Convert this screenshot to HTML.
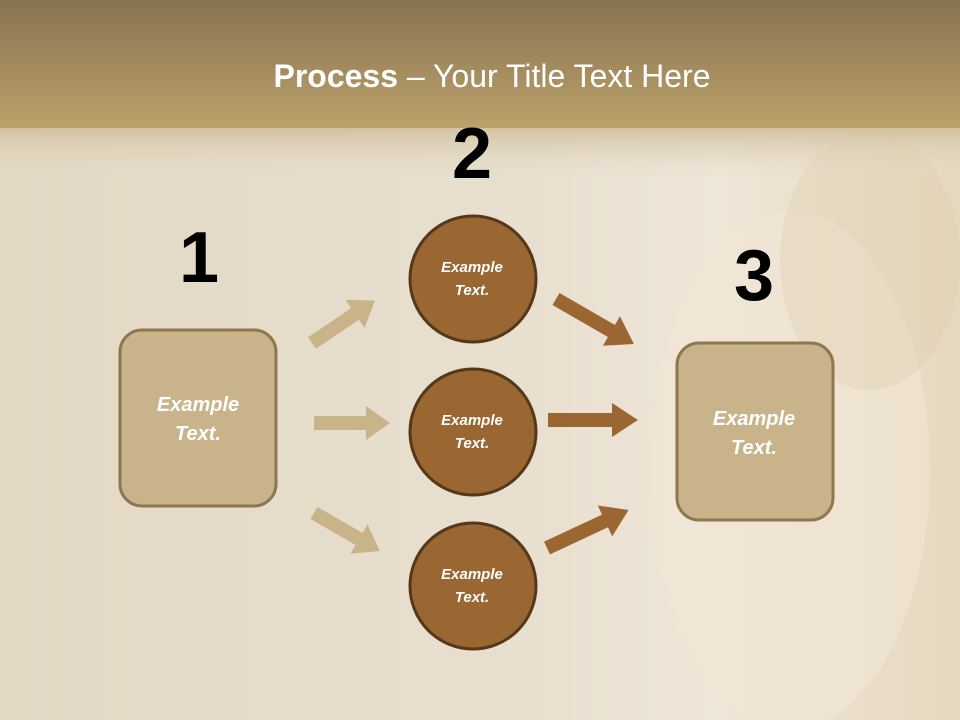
<!DOCTYPE html>
<html><head><meta charset="utf-8"><style>
html,body{margin:0;padding:0;width:960px;height:720px;overflow:hidden}
svg{display:block}
text{font-family:"Liberation Sans",sans-serif}
</style></head><body>
<svg width="960" height="720" viewBox="0 0 960 720" xmlns="http://www.w3.org/2000/svg">
<defs>
<linearGradient id="band" x1="0" y1="0" x2="0" y2="1">
<stop offset="0" stop-color="#877350"/><stop offset="1" stop-color="#bca16c"/>
</linearGradient>
<linearGradient id="fade" x1="0" y1="0" x2="0" y2="1">
<stop offset="0" stop-color="#d2c29f"/><stop offset="1" stop-color="#e6dccb" stop-opacity="0"/>
</linearGradient>
<linearGradient id="bg" x1="0" y1="0" x2="1" y2="0">
<stop offset="0" stop-color="#e3d8c4"/><stop offset="0.55" stop-color="#e8dfcf"/><stop offset="0.75" stop-color="#efe6d8"/><stop offset="1" stop-color="#e6d8bf"/>
</linearGradient>
<g id="arr"><polygon points="0,-7 64,-7 64,-17 90,0 64,17 64,7 0,7"/></g>
<g id="arrs"><polygon points="0,-7 52,-7 52,-17 76,0 52,17 52,7 0,7"/></g>
</defs>
<rect width="960" height="720" fill="url(#bg)"/>
<ellipse cx="790" cy="470" rx="140" ry="260" fill="#f1e6d6" opacity="0.6"/>
<ellipse cx="870" cy="260" rx="90" ry="130" fill="#dccaa8" opacity="0.3"/>
<rect x="0" y="128" width="960" height="50" fill="url(#fade)"/>
<rect x="0" y="0" width="960" height="128" fill="url(#band)"/>
<text x="492" y="87" font-size="32" fill="#fff" text-anchor="middle"><tspan font-weight="bold">Process</tspan> – Your Title Text Here</text>
<g font-weight="bold" font-size="72" text-anchor="middle" fill="#000">
<text x="199" y="282">1</text><text x="472" y="178">2</text><text x="754" y="300">3</text>
</g>
<g fill="#c9b48a">
<use href="#arrs" transform="translate(312,343) rotate(-34)"/>
<use href="#arrs" transform="translate(314,423)"/>
<use href="#arrs" transform="translate(314,513) rotate(30)"/>
</g>
<g fill="#9a6632">
<use href="#arr" transform="translate(556,299) rotate(30)"/>
<use href="#arr" transform="translate(548,420)"/>
<use href="#arr" transform="translate(547,548) rotate(-25)"/>
</g>
<rect x="120" y="330" width="156" height="176" rx="22" fill="#c9b38a" stroke="#8f7650" stroke-width="3"/>
<rect x="677" y="343" width="156" height="177" rx="22" fill="#c9b38a" stroke="#8f7650" stroke-width="3"/>
<g fill="#9a6632" stroke="#55381a" stroke-width="3">
<circle cx="473" cy="279" r="63"/><circle cx="473" cy="432" r="63"/><circle cx="473" cy="586" r="63"/>
</g>
<g fill="#fff" font-style="italic" font-weight="bold" text-anchor="middle">
<g font-size="20"><text x="198" y="411">Example</text><text x="198" y="440">Text.</text>
<text x="754" y="425">Example</text><text x="754" y="454">Text.</text></g>
<g font-size="15"><text x="472" y="272">Example</text><text x="472" y="295">Text.</text>
<text x="472" y="425">Example</text><text x="472" y="448">Text.</text>
<text x="472" y="579">Example</text><text x="472" y="602">Text.</text></g>
</g>
</svg>
</body></html>
